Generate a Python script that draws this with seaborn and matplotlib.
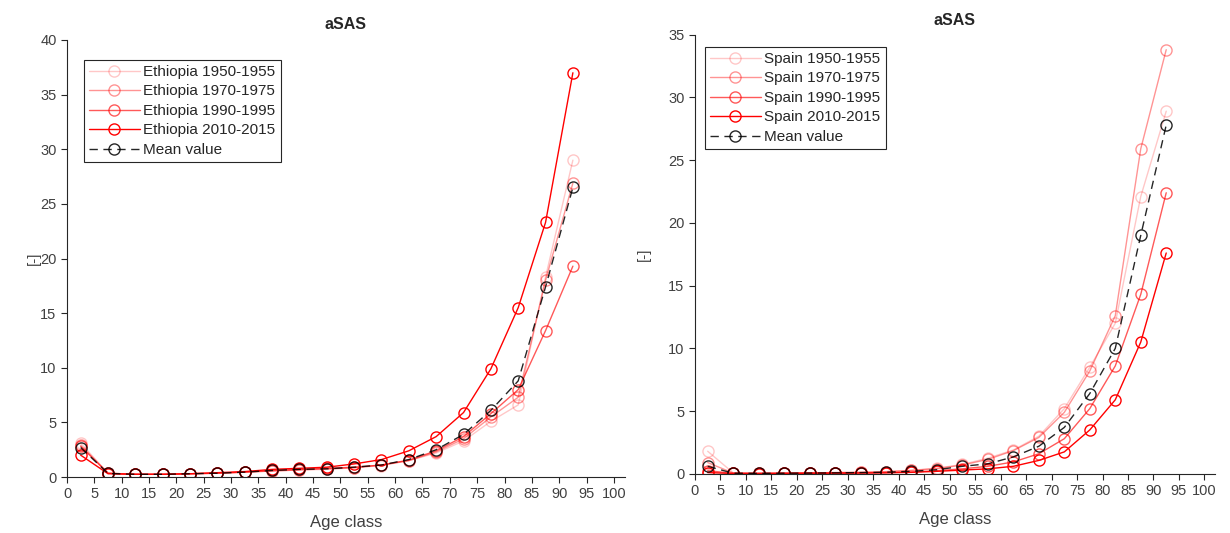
import numpy as np
import pandas as pd
import matplotlib
matplotlib.use("Agg")
import matplotlib.pyplot as plt
import seaborn as sns

# Age class mid-points (5-year classes)
ages = [2.5, 7.5, 12.5, 17.5, 22.5, 27.5, 32.5, 37.5, 42.5, 47.5,
        52.5, 57.5, 62.5, 67.5, 72.5, 77.5, 82.5, 87.5, 92.5]

# aSAS values, Ethiopia
eth_1950 = [3.1, 0.35, 0.25, 0.25, 0.3, 0.35, 0.45, 0.55, 0.65, 0.7,
            0.85, 1.05, 1.5, 2.2, 3.3, 5.1, 6.6, 18.3, 29.0]
eth_1970 = [2.9, 0.35, 0.25, 0.25, 0.3, 0.35, 0.45, 0.55, 0.65, 0.75,
            0.85, 1.1, 1.5, 2.3, 3.5, 5.5, 7.3, 18.0, 26.9]
eth_1990 = [2.8, 0.35, 0.25, 0.25, 0.3, 0.35, 0.45, 0.6, 0.7, 0.8,
            0.9, 1.1, 1.55, 2.4, 3.7, 5.8, 8.0, 13.4, 19.3]
eth_2010 = [2.0, 0.3, 0.25, 0.25, 0.3, 0.4, 0.5, 0.7, 0.8, 0.9,
            1.2, 1.6, 2.4, 3.7, 5.9, 9.9, 15.5, 23.3, 37.0]
eth_mean = [2.7, 0.33, 0.25, 0.25, 0.3, 0.35, 0.45, 0.6, 0.7, 0.75,
            0.9, 1.1, 1.6, 2.5, 3.9, 6.1, 8.8, 17.4, 26.5]

# aSAS values, Spain
sp_1950 = [1.8, 0.08, 0.05, 0.06, 0.08, 0.1, 0.12, 0.18, 0.28, 0.45,
           0.75, 1.25, 1.9, 3.0, 5.2, 8.5, 12.0, 22.1, 28.9]
sp_1970 = [0.9, 0.06, 0.05, 0.06, 0.08, 0.1, 0.12, 0.17, 0.27, 0.42,
           0.7, 1.15, 1.85, 2.9, 4.9, 8.2, 12.6, 25.9, 33.8]
sp_1990 = [0.25, 0.04, 0.03, 0.05, 0.06, 0.07, 0.08, 0.1, 0.15, 0.25,
           0.4, 0.6, 0.95, 1.6, 2.8, 5.2, 8.6, 14.3, 22.4]
sp_2010 = [0.1, 0.03, 0.02, 0.03, 0.04, 0.05, 0.06, 0.08, 0.12, 0.2,
           0.3, 0.4, 0.6, 1.07, 1.75, 3.5, 5.9, 10.5, 17.6]
sp_mean = [0.6, 0.05, 0.04, 0.05, 0.06, 0.08, 0.1, 0.13, 0.2, 0.33,
           0.6, 0.8, 1.35, 2.2, 3.7, 6.4, 10.0, 19.0, 27.8]

periods = ["1950-1955", "1970-1975", "1990-1995", "2010-2015"]
period_alpha = [0.22, 0.42, 0.65, 1.0]

x_ticks = list(range(0, 101, 5))

sns.set_style("ticks")
plt.rcParams["font.family"] = ["Liberation Sans", "DejaVu Sans"]
plt.rcParams["axes.edgecolor"] = "#262626"
plt.rcParams["xtick.color"] = "#262626"
plt.rcParams["ytick.color"] = "#262626"
plt.rcParams["axes.linewidth"] = 0.8

fig = plt.figure(figsize=(12.3, 5.33), dpi=100)
ax1 = fig.add_axes([0.0545, 0.105, 0.4535, 0.82])
ax2 = fig.add_axes([0.565, 0.111, 0.4225, 0.824])


def draw_panel(ax, country, series, mean, ymax, legend_anchor, ylabel_x,
               title_pad):
    for vals, period, a in zip(series, periods, period_alpha):
        sns.lineplot(x=ages, y=vals, ax=ax, color="red", alpha=a,
                     lw=1.0, marker="o", markersize=8,
                     markerfacecolor="none", markeredgecolor="red",
                     markeredgewidth=1.0, label=f"{country} {period}")
    sns.lineplot(x=ages, y=mean, ax=ax, color="black", alpha=0.85,
                 lw=1.0, linestyle=(0, (6, 4)), marker="o", markersize=8,
                 markerfacecolor="none", markeredgecolor="black",
                 markeredgewidth=1.0, label="Mean value")
    ax.set_xlim(0, 102)
    ax.set_ylim(0, ymax)
    ax.set_xticks(x_ticks)
    ax.set_xticklabels([str(t) for t in x_ticks], fontsize=10.5, color="#404040")
    yt = list(range(0, ymax + 1, 5))
    ax.set_yticks(yt)
    ax.set_yticklabels([str(t) for t in yt], fontsize=10.5, color="#404040")
    ax.tick_params(direction="out", length=4, width=0.8)
    sns.despine(ax=ax)
    ax.set_xlabel("Age class", fontsize=12, color="#404040", labelpad=10)
    ax.set_ylabel("[-]", fontsize=11, color="#404040")
    ax.yaxis.set_label_coords(ylabel_x, 0.5)
    ax.set_title("aSAS", fontsize=11.5, fontweight="bold", pad=title_pad)
    leg = ax.legend(loc="upper left", bbox_to_anchor=legend_anchor,
                    borderaxespad=0, frameon=True, fancybox=False,
                    framealpha=1, edgecolor="#262626", fontsize=11,
                    handlelength=3.3, handletextpad=0.25, labelspacing=0.36,
                    borderpad=0.35)
    leg.get_frame().set_linewidth(0.8)


draw_panel(ax1, "Ethiopia", [eth_1950, eth_1970, eth_1990, eth_2010],
           eth_mean, 40, (0.03, 0.955), -0.047, 8)
draw_panel(ax2, "Spain", [sp_1950, sp_1970, sp_1990, sp_2010],
           sp_mean, 35, (0.019, 0.973), -0.085, 7)

fig.savefig("out.png", dpi=100, facecolor="white")
